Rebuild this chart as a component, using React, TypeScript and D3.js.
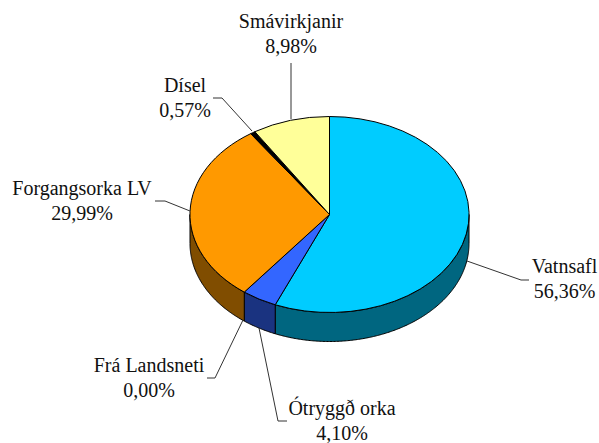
import * as d3 from "d3";

// values as printed on the chart labels
const names = ["Vatnsafl", "Ótryggð orka", "Frá Landsneti", "Forgangsorka LV", "Dísel", "Smávirkjanir"];
const shares = [56.36, 4.1, 0.0, 29.99, 0.57, 8.98];
const shareLabels = ["56,36%", "4,10%", "0,00%", "29,99%", "0,57%", "8,98%"];

const topColors = ["#00CCFF", "#3366FF", "#FFFFFF", "#FF9900", "#000000", "#FFFF99"];
const sideColors = ["#006680", "#1A3380", "#808080", "#804D00", "#000000", "#808050"];

const width = 599;
const height = 443;
const cx = 329.5;
const cy = 214.5;
const rx = 139.5;
const ry = 98;
const depth = 29;
const lineGap = 25;

// label centre + baseline of first line, and leader polyline, by slice
const labelPos = [
  { x: 564.5, y: 273, leader: [[467, 261], [521, 280], [529, 280]] },
  { x: 342, y: 415, leader: [[259, 328], [278, 421], [287, 421]] },
  { x: 149, y: 372, leader: [[243, 320], [215, 378], [207, 378]] },
  { x: 82, y: 195, leader: [[190, 211], [165, 201], [155, 201]] },
  { x: 185, y: 92, leader: [[252, 131], [222, 98], [213, 98]] },
  { x: 291, y: 28, leader: [[291, 119], [291, 63]] },
];

const pie = d3.pie<number>().sort(null).value((d) => d);
const slices = pie(shares);

// d3.arc on a unit circle, squashed to the ellipse with a scale transform
const topArc = d3.arc<d3.PieArcDatum<number>>().innerRadius(0).outerRadius(1);
const line = d3.line();

function rimPoint(a: number): [number, number] {
  return [cx + rx * Math.sin(a), cy - ry * Math.cos(a)];
}

// wall of a slice: only the part of the rim facing the viewer (90deg to 270deg)
function sidePath(start: number, end: number): string | null {
  const a0 = Math.max(start, Math.PI / 2);
  const a1 = Math.min(end, (3 * Math.PI) / 2);
  if (a1 <= a0) return null;
  const angles = d3.range(a0, a1, 0.01).concat(a1);
  const rim = angles.map(rimPoint);
  const lower = rim.map(([x, y]) => [x, y + depth] as [number, number]).reverse();
  return line([...rim, ...lower]) + "Z";
}

export default function App() {
  return (
    <svg
      width={width}
      height={height}
      viewBox={`0 0 ${width} ${height}`}
      style={{ position: "absolute", left: 0, top: 0, background: "#fff" }}
    >
      {slices.map((s, i) => {
        const d = sidePath(s.startAngle, s.endAngle);
        return d ? <path key={i} d={d} fill={sideColors[i]} stroke="#000" strokeWidth={1} strokeLinejoin="round" /> : null;
      })}
      <g transform={`translate(${cx},${cy}) scale(${rx},${ry})`}>
        {slices.map((s, i) =>
          s.endAngle > s.startAngle ? (
            <path
              key={i}
              d={topArc(s) as string}
              fill={topColors[i]}
              stroke="#000"
              strokeWidth={1}
              strokeLinejoin="round"
              vectorEffect="non-scaling-stroke"
            />
          ) : null
        )}
      </g>
      {labelPos.map((p, i) => (
        <g key={i}>
          <path d={line(p.leader as [number, number][]) as string} fill="none" stroke="#333" strokeWidth={1} />
          <text x={p.x} y={p.y} textAnchor="middle" fontFamily="'Liberation Serif', serif" fontSize={20} fill="#111">
            {names[i]}
          </text>
          <text x={p.x} y={p.y + lineGap} textAnchor="middle" fontFamily="'Liberation Serif', serif" fontSize={20} fill="#111">
            {shareLabels[i]}
          </text>
        </g>
      ))}
    </svg>
  );
}
